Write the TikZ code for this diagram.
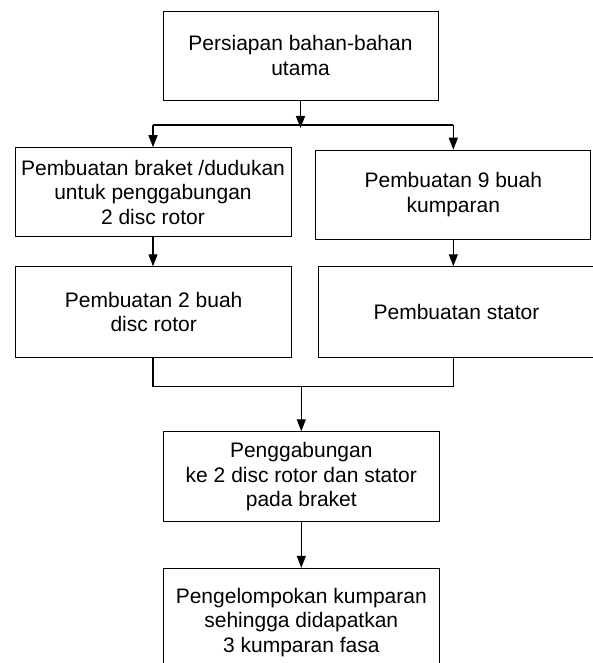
\documentclass[tikz,border=0pt]{standalone}
\usepackage{fontspec}
\setmainfont{Liberation Sans}
\usetikzlibrary{arrows.meta}
\begin{document}
\begin{tikzpicture}[x=1pt,y=-1pt,
  box/.style={draw, line width=0.9pt, inner sep=0pt, align=center,
    font=\fontsize{21}{24.5}\selectfont},
  link/.style={line width=1.3pt},
  arr/.style={link, -{Triangle[length=12pt,width=9pt]}}]
\useasboundingbox (0,0) rectangle (593,663);
\begin{scope}
\clip (0,0) rectangle (593,663);
\node[box, minimum width=275pt, minimum height=89pt] (top) at (300.5,55.5) {Persiapan bahan-bahan\\utama};
\node[box, minimum width=276pt, minimum height=89pt] (l1) at (153,192.2) {Pembuatan braket /dudukan\\untuk penggabungan\\2 disc rotor};
\node[box, minimum width=275pt, minimum height=89pt] (r1) at (453.3,194.7) {Pembuatan 9 buah\\kumparan};
\node[box, minimum width=276pt, minimum height=90.6pt] (l2) at (153.7,312) {Pembuatan 2 buah\\disc rotor};
\node[box, minimum width=277pt, minimum height=90.6pt] (r2) at (456.5,312) {Pembuatan stator};
\node[box, minimum width=276pt, minimum height=90pt] (b3) at (301.3,476.7) {Penggabungan\\ke 2 disc rotor dan stator\\pada braket};
\node[box, minimum width=276pt, minimum height=108pt] (b4) at (301.3,622.3) {Pengelompokan kumparan\\sehingga didapatkan\\3 kumparan fasa};
\end{scope}
\coordinate (split) at (300.5,128);
\coordinate (busT) at (0,125);
\coordinate (busB) at (0,386.7);
\draw[arr] (top.south) -- (split);
\draw[link] (l1.north |- busT) -- (r1.north |- busT);
\draw[arr] (l1.north |- busT) -- (l1.north);
\draw[arr] (r1.north |- busT) -- (r1.north);
\draw[arr] (l1.south) -- (l1.south |- l2.north);
\draw[arr] (r1.south) -- (r1.south |- r2.north);
\draw[link] (l1.south |- l2.south) -- (l1.south |- busB) -- (r1.south |- busB) -- (r1.south |- r2.south);
\draw[arr] (b3.north |- busB) -- (b3.north);
\draw[arr] (b3.south) -- (b4.north);
\end{tikzpicture}
\end{document}
